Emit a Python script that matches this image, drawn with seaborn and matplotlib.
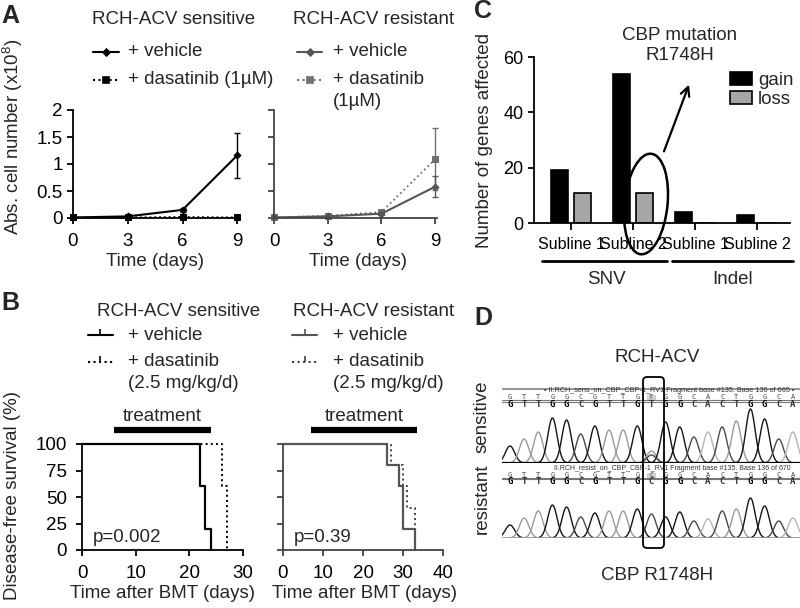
import numpy as np
import pandas as pd
import matplotlib
matplotlib.use('Agg')
import matplotlib.pyplot as plt
import seaborn as sns
from matplotlib.lines import Line2D
from matplotlib.patches import Ellipse, FancyBboxPatch, FancyArrowPatch, Rectangle, Patch

# ---------------- data ----------------
# Panel A: absolute cell number (x10^8)
days = [0, 3, 6, 9]
a_sens_vehicle = [0.01, 0.03, 0.15, 1.16]
a_sens_vehicle_err = [0.005, 0.01, 0.03, 0.41]
a_sens_dasatinib = [0.01, 0.01, 0.02, 0.01]
a_sens_dasatinib_err = [0.005, 0.005, 0.01, 0.005]
a_res_vehicle = [0.01, 0.03, 0.08, 0.58]
a_res_vehicle_err = [0.005, 0.01, 0.01, 0.20]
a_res_dasatinib = [0.01, 0.04, 0.11, 1.09]
a_res_dasatinib_err = [0.005, 0.01, 0.02, 0.57]
a_yticks = [0, 0.5, 1, 1.5, 2]
a_ytick_labels = ['0', '0.5', '1', '1.5', '2']

# Panel B: disease-free survival (%)
b_sens_vehicle_t = [0, 22, 23, 24]
b_sens_vehicle_s = [100, 60, 20, 0]
b_sens_dasatinib_t = [0, 26, 27]
b_sens_dasatinib_s = [100, 60, 0]
b_res_vehicle_t = [0, 26, 29, 30, 33]
b_res_vehicle_s = [100, 80, 60, 20, 0]
b_res_dasatinib_t = [0, 27, 30, 31, 33]
b_res_dasatinib_s = [100, 80, 60, 40, 0]
b_treat_sens = [6, 24]
b_treat_res = [7, 33.5]
b_pvals = ['p=0.002', 'p=0.39']

# Panel C: number of genes affected
c_groups = ['SNV-1', 'SNV-2', 'Indel-1', 'Indel-2']
c_tick_labels = ['Subline 1', 'Subline 2', 'Subline 1', 'Subline 2']
c_gain = [19, 54, 4, 3]
c_loss = [11, 11, 0, 0]
c_types = ['gain', 'loss']

# Panel D: chromatogram peaks
d_seq_sens = list('GTTGGCGTTGTGGCACTGGCA')
d_seq_res = list('GTTGGCGTTGCGGCACTGGCA')
d_peaks_sens = [17, 24, 31, 45, 43, 29, 37, 33, 33, 37, 12, 41, 36, 26, 31, 36, 42, 54, 44, 24, 31]
d_peaks_res = [13, 20, 27, 33, 31, 21, 25, 27, 27, 29, 24, 21, 26, 17, 19, 27, 29, 40, 32, 17, 20]
d_minor_sens_pos = [10]
d_minor_sens_base = ['C']
d_minor_sens_h = [8]
d_site = 10
d_header_sens = '\u2022 II.RCH_sens_on_CBP_CBP-1_RV1 Fragment base #135. Base 136 of 665 \u2022'
d_header_res = 'II.RCH_resist_on_CBP_CBP-1_RV1 Fragment base #135. Base 136 of 670'

# ---------------- setup ----------------
sns.set_theme(style='ticks')
plt.rcParams['font.family'] = ['Liberation Sans', 'DejaVu Sans']
plt.rcParams['mathtext.fontset'] = 'custom'
plt.rcParams['mathtext.rm'] = 'Liberation Sans'
plt.rcParams['mathtext.it'] = 'Liberation Sans'

W, H = 800, 608
fig = plt.figure(figsize=(8, 6.08), dpi=100)
fig.patch.set_facecolor('white')

FS = 13.5


def rect(x0, y0, x1, y1):
    return [x0 / W, 1 - y1 / H, (x1 - x0) / W, (y1 - y0) / H]


def P(x, y):
    return (x / W, 1 - y / H)


def ftext(x, y, s, **kw):
    kw.setdefault('ha', 'left')
    kw.setdefault('va', 'center')
    kw.setdefault('fontsize', FS)
    fig.text(x / W, 1 - y / H, s, **kw)


def handle(x0, x1, y, color, ls, marker, ms):
    fig.add_artist(Line2D([x0 / W, x1 / W], [1 - y / H] * 2, color=color, ls=ls, lw=1.5))
    fig.add_artist(Line2D([(x0 + x1) / 2 / W], [1 - y / H], color=color, marker=marker,
                          ms=ms, ls='none', mew=1.2))


def style_ax(ax, color='black'):
    sns.despine(ax=ax)
    for s in ['left', 'bottom']:
        ax.spines[s].set_linewidth(1.3)
        ax.spines[s].set_color(color)
    ax.tick_params(color=color, labelcolor='black', width=1.3, length=4,
                   direction='out', labelsize=13.5)
    ax.set_facecolor('none')
    ax.set_xlabel('')
    ax.set_ylabel('')


# ---------------- Panel A ----------------
GRAY = '#555555'
panelsA = [
    (rect(73, 110, 240, 218), 9.15, 'black', a_sens_vehicle, a_sens_vehicle_err,
     a_sens_dasatinib, a_sens_dasatinib_err, True),
    (rect(274, 110, 437, 218), 9.1, GRAY, a_res_vehicle, a_res_vehicle_err,
     a_res_dasatinib, a_res_dasatinib_err, False),
]
for r, xmax, col, veh, veh_e, das, das_e, lab in panelsA:
    ax = fig.add_axes(r)
    dcol = 'black' if col == 'black' else '#707070'
    sns.lineplot(x=days, y=das, ax=ax, color=dcol, linestyle=':', lw=1.3,
                 marker='s', markersize=4, markeredgecolor=dcol, clip_on=False)
    ax.errorbar(days, das, yerr=das_e, fmt='none', ecolor=dcol, elinewidth=1,
                capsize=2.5, clip_on=False)
    sns.lineplot(x=days, y=veh, ax=ax, color=col, lw=1.5, marker='D', markersize=3.5,
                 markeredgecolor=col, clip_on=False)
    ax.errorbar(days, veh, yerr=veh_e, fmt='none', ecolor=col, elinewidth=1,
                capsize=2.5, clip_on=False)
    ax.set_xlim(0, xmax)
    ax.set_ylim(0, 2)
    ax.set_xticks(days)
    ax.set_yticks(a_yticks)
    style_ax(ax, 'black' if col == 'black' else '#444444')
    ax.tick_params(axis='x', pad=7)
    if lab:
        ax.set_yticklabels(a_ytick_labels)
    else:
        ax.set_yticklabels([])

ftext(10, 16, 'A', fontsize=18, fontweight='bold', ha='center')
ftext(92, 20, 'RCH-ACV sensitive')
ftext(293, 20, 'RCH-ACV resistant')
handle(93, 119, 52, 'black', '-', 'D', 3.5)
ftext(128, 52, '+ vehicle')
handle(93, 119, 80, 'black', ':', 's', 4)
ftext(128, 80, '+ dasatinib (1\u00b5M)')
handle(297, 322, 52, GRAY, '-', 'D', 3.5)
ftext(333, 52, '+ vehicle')
handle(297, 322, 80, '#707070', ':', 's', 4)
ftext(333, 80, '+ dasatinib')
ftext(333, 101, '(1\u00b5M)')
ftext(13, 137, 'Abs. cell number (x10$^{8}$)', rotation=90, ha='center', fontsize=13.5)
ftext(155, 261, 'Time (days)', ha='center', fontsize=13.5)
ftext(358, 261, 'Time (days)', ha='center', fontsize=13.5)

# ---------------- Panel B ----------------
panelsB = [
    (rect(82, 444, 243, 550), 30, [0, 10, 20, 30], 'black', b_sens_vehicle_t, b_sens_vehicle_s,
     b_sens_dasatinib_t, b_sens_dasatinib_s, b_treat_sens, b_pvals[0], True),
    (rect(283, 444, 443, 550), 40, [0, 10, 20, 30, 40], GRAY, b_res_vehicle_t, b_res_vehicle_s,
     b_res_dasatinib_t, b_res_dasatinib_s, b_treat_res, b_pvals[1], False),
]
for r, xmax, xt, col, vt, vs, dt, ds, treat, pv, lab in panelsB:
    ax = fig.add_axes(r)
    sns.lineplot(x=dt, y=ds, ax=ax, color='black' if col == 'black' else '#404040',
                 linestyle=':', lw=1.4, drawstyle='steps-post', clip_on=False)
    sns.lineplot(x=vt, y=vs, ax=ax, color=col, lw=1.6, drawstyle='steps-post', clip_on=False)
    ax.plot(treat, [113, 113], color='black', lw=4.5, solid_capstyle='butt', clip_on=False)
    ax.text(np.mean(treat), 126, 'treatment', ha='center', va='center', fontsize=FS)
    ax.text(0.07 * xmax, 12, pv, ha='left', va='center', fontsize=FS)
    ax.set_xlim(0, xmax)
    ax.set_ylim(0, 100)
    ax.set_xticks(xt)
    ax.set_yticks([0, 25, 50, 75, 100])
    style_ax(ax, 'black' if col == 'black' else '#444444')
    ax.tick_params(axis='both', pad=7)
    if not lab:
        ax.set_yticklabels([])

ftext(10, 303, 'B', fontsize=18, fontweight='bold', ha='center')
ftext(97, 312, 'RCH-ACV sensitive')
ftext(293, 312, 'RCH-ACV resistant')
handle(88, 113, 335, 'black', '-', 2, 4)
ftext(128, 335, '+ vehicle')
handle(88, 113, 362, 'black', ':', 2, 4)
ftext(128, 362, '+ dasatinib')
ftext(128, 383, '(2.5 mg/kg/d)')
handle(292, 317, 335, GRAY, '-', 2, 4)
ftext(333, 335, '+ vehicle')
handle(292, 317, 362, '#404040', ':', 2, 4)
ftext(333, 362, '+ dasatinib')
ftext(333, 383, '(2.5 mg/kg/d)')
ftext(13, 495, 'Disease-free survival (%)', rotation=90, ha='center', fontsize=13.5)
ftext(162, 594, 'Time after BMT (days)', ha='center', fontsize=13.5)
ftext(365, 594, 'Time after BMT (days)', ha='center', fontsize=13.5)

# ---------------- Panel C ----------------
axc = fig.add_axes(rect(534, 57, 790, 223))
dfc = pd.DataFrame({
    'group': c_groups * 2,
    'count': c_gain + c_loss,
    'type': [c_types[0]] * 4 + [c_types[1]] * 4,
})
pal = {'gain': 'black', 'loss': '#a6a6a6'}
sns.barplot(data=dfc, x='group', y='count', hue='type', order=c_groups, hue_order=c_types,
            palette=pal, edgecolor='black', linewidth=1.2, width=0.75, gap=0.28,
            saturation=1, legend=False, ax=axc)
axc.set_xlim(-0.6, 3.53)
axc.set_ylim(0, 60)
axc.set_yticks([0, 20, 40, 60])
style_ax(axc)
axc.tick_params(axis='y', labelsize=13)
axc.set_xticks(range(len(c_groups)))
axc.set_xticklabels(c_tick_labels, fontsize=11.5)
axc.tick_params(axis='x', length=5, pad=5)
axc.legend(handles=[Patch(facecolor=pal[t], edgecolor='black', lw=1.2) for t in c_types],
           labels=c_types, loc='upper left', bbox_to_anchor=P(730, 72),
           bbox_transform=fig.transFigure, frameon=False, fontsize=13.5,
           handlelength=1.15, handleheight=0.7, handletextpad=0.35, labelspacing=0.1,
           borderpad=0, borderaxespad=0)

ftext(483, 11, 'C', fontsize=18, fontweight='bold', ha='center')
ftext(485, 140, 'Number of genes affected', rotation=90, ha='center', fontsize=13.5)
ftext(680, 35, 'CBP mutation', ha='center', fontsize=13.5)
ftext(680, 55, 'R1748H', ha='center', fontsize=13.5)
fig.add_artist(FancyArrowPatch(P(663, 154), P(690, 82), transform=fig.transFigure,
                               arrowstyle='->', mutation_scale=16, lw=1.6, color='black'))
fig.add_artist(Ellipse((6.46, (H - 204) / 100), 0.43, 1.01, angle=-6,
                       transform=fig.dpi_scale_trans, fill=False, lw=1.8, ec='black'))
fig.add_artist(Line2D([542 / W, 667 / W], [1 - 261 / H] * 2, color='black', lw=2))
fig.add_artist(Line2D([672 / W, 793 / W], [1 - 261 / H] * 2, color='black', lw=2))
ftext(606, 280, 'SNV', ha='center', fontsize=13.5)
ftext(733, 280, 'Indel', ha='center', fontsize=13.5)

# ---------------- Panel D ----------------
base_col = {'G': '#151515', 'C': '#4a4a4a', 'T': '#9a9a9a', 'A': '#b5b5b5'}


def draw_peak(ax, pos, h, color):
    xs = np.linspace(pos - 1.0, pos + 1.0, 70)
    ys = h * np.exp(-0.5 * ((xs - pos) / 0.33) ** 2)
    ax.plot(xs, ys, color=color, lw=1.0)


def chrom(r, ymax, seq, peaks, header, header_x, header_ha, header_fs, yh, ys, yl, yb,
          baseline_col, baseline_lw, minor=None):
    ax = fig.add_axes(r)
    ax.set_xlim(-0.565, 20.5)
    ax.set_ylim(0, ymax)
    ax.axis('off')
    idx = np.arange(len(seq))
    for i, (b, h) in enumerate(zip(seq, peaks)):
        draw_peak(ax, i, h, base_col[b])
    if minor is not None:
        for p, b, h in zip(*minor):
            draw_peak(ax, p, h, base_col[b])
    ax.axhline(0, color=baseline_col, lw=baseline_lw)
    ax.axhline(yl + 0.6, color='#777777', lw=0.8)
    ax.axhline(yl - 0.6, color='#777777', lw=0.8)
    ax.add_patch(Rectangle((d_site - 0.35, ys - 2.5), 0.7, 5, color='#d0d0d0', lw=0))
    for i, b in zip(idx, seq):
        ax.text(i, ys, b, ha='center', va='center', fontsize=5, color='#444444',
                family='DejaVu Sans Mono')
        ax.text(i, yb, b, ha='center', va='center', fontsize=6.5, fontweight='bold',
                color='black' if b == 'G' else '#333333', family='DejaVu Sans Mono')
    ax.text(header_x, yh, header, ha=header_ha, va='center', fontsize=header_fs, color='#333333')
    return ax


axs = chrom(rect(502, 388, 800, 463), 75, d_seq_sens, d_peaks_sens, d_header_sens,
            20.1, 'right', 5.2, 72, 66, 62, 58.5, 'black', 1.6,
            minor=(d_minor_sens_pos, d_minor_sens_base, d_minor_sens_h))
axs.axhline(74, color='#999999', lw=1.5)
axr = chrom(rect(502, 465, 800, 538), 73, d_seq_res, d_peaks_res, d_header_res,
            3.1, 'left', 5.0, 69, 63, 59.5, 56, '#999999', 1.3)

fig.add_artist(FancyBboxPatch((6.43, (H - 548) / 100), 0.21, 1.71,
                              boxstyle='round,pad=0,rounding_size=0.04',
                              transform=fig.dpi_scale_trans, fill=False, lw=1.3, ec='black'))
ftext(483, 318, 'D', fontsize=18, fontweight='bold', ha='center')
ftext(657, 357, 'RCH-ACV', ha='center', fontsize=13.5)
ftext(657, 575, 'CBP R1748H', ha='center', fontsize=13.5)
ftext(482, 417, 'sensitive', rotation=90, ha='center', fontsize=13.5)
ftext(482, 499, 'resistant', rotation=90, ha='center', fontsize=13.5)

fig.savefig('out.png', dpi=100, facecolor='white')
